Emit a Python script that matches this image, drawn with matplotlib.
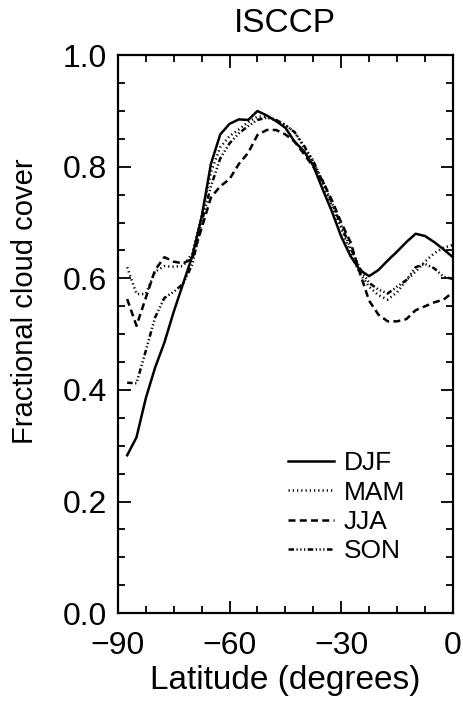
import matplotlib
matplotlib.use("Agg")
import matplotlib.pyplot as plt
from matplotlib.ticker import MultipleLocator, FormatStrFormatter

# latitude grid (degrees) and seasonal zonal-mean cloud cover
lat = [-87.5, -85, -82.5, -80, -77.5, -75, -72.5, -70, -67.5, -65, -62.5, -60,
       -57.5, -55, -52.5, -50, -47.5, -45, -42.5, -40, -37.5, -35, -32.5, -30,
       -27.5, -25, -22.5, -20, -17.5, -15, -12.5, -10, -7.5, -5, -2.5, 0]

djf = [0.283, 0.315, 0.385, 0.440, 0.485, 0.540, 0.590, 0.640, 0.710, 0.805, 0.858, 0.877,
       0.885, 0.884, 0.900, 0.892, 0.882, 0.870, 0.845, 0.828, 0.802, 0.760, 0.720, 0.675,
       0.640, 0.615, 0.604, 0.615, 0.632, 0.648, 0.665, 0.680, 0.676, 0.665, 0.652, 0.638]

mam = [0.620, 0.572, 0.572, 0.612, 0.622, 0.621, 0.622, 0.645, 0.710, 0.790, 0.835, 0.855,
       0.867, 0.880, 0.890, 0.890, 0.884, 0.875, 0.862, 0.835, 0.810, 0.770, 0.730, 0.690,
       0.645, 0.610, 0.585, 0.570, 0.562, 0.575, 0.597, 0.612, 0.630, 0.645, 0.655, 0.660]

jja = [0.563, 0.515, 0.565, 0.615, 0.638, 0.630, 0.627, 0.635, 0.690, 0.745, 0.765, 0.778,
       0.805, 0.825, 0.857, 0.866, 0.866, 0.858, 0.845, 0.823, 0.800, 0.775, 0.740, 0.700,
       0.665, 0.610, 0.560, 0.535, 0.523, 0.523, 0.527, 0.543, 0.550, 0.557, 0.562, 0.575]

son = [0.413, 0.412, 0.470, 0.530, 0.565, 0.576, 0.590, 0.625, 0.700, 0.765, 0.815, 0.842,
       0.860, 0.873, 0.884, 0.888, 0.884, 0.875, 0.862, 0.838, 0.810, 0.775, 0.735, 0.695,
       0.655, 0.618, 0.592, 0.580, 0.573, 0.585, 0.597, 0.620, 0.626, 0.618, 0.603, 0.599]

plt.rcParams['font.family'] = ['Liberation Sans', 'DejaVu Sans']

fig = plt.figure(figsize=(4.64, 7.08), dpi=100)
ax = fig.add_axes([0.254, 0.134, 0.722, 0.788])

lw = 1.8
ax.plot(lat, djf, color='black', lw=lw, label='DJF')
ax.plot(lat, mam, color='black', lw=lw, dashes=(0.5, 1.2), label='MAM')
ax.plot(lat, jja, color='black', lw=lw, dashes=(2.8, 1.7), label='JJA')
ax.plot(lat, son, color='black', lw=lw,
        dashes=(2.2, 1.0, 0.5, 1.0, 0.5, 1.0, 0.5, 1.0), label='SON')

ax.set_xlim(-90, 0)
ax.set_ylim(0, 1)
ax.xaxis.set_major_locator(MultipleLocator(30))
ax.xaxis.set_minor_locator(MultipleLocator(7.5))
ax.yaxis.set_major_locator(MultipleLocator(0.2))
ax.yaxis.set_minor_locator(MultipleLocator(0.05))
ax.yaxis.set_major_formatter(FormatStrFormatter('%.1f'))

ax.tick_params(which='both', direction='in', top=True, right=True, width=1.3)
ax.tick_params(which='major', length=9, labelsize=23)
ax.tick_params(which='minor', length=5)
ax.tick_params(axis='x', which='major', pad=13)
ax.tick_params(axis='y', which='major', pad=8)
for s in ax.spines.values():
    s.set_linewidth(1.6)

ax.set_xlabel('Latitude (degrees)', fontsize=24, labelpad=3)
ax.set_ylabel('Fractional cloud cover', fontsize=21)
ax.yaxis.set_label_coords(-0.235, 0.56)
ax.set_title('ISCCP', fontsize=24, pad=17)

ax.legend(loc='upper left', bbox_to_anchor=(0.508, 0.29), frameon=False,
          fontsize=19, handlelength=1.75, handletextpad=0.35, labelspacing=0.2,
          borderpad=0, borderaxespad=0)

fig.savefig('out.png', dpi=100)
